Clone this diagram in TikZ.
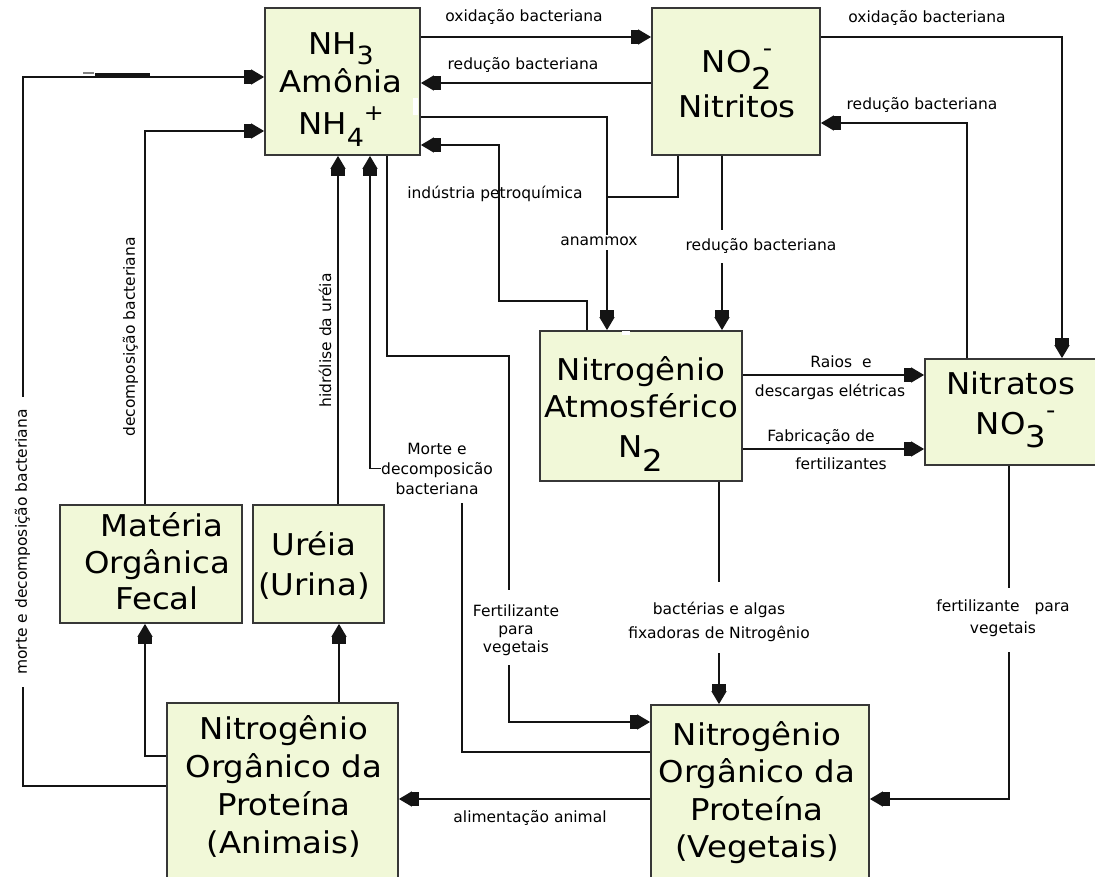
\documentclass[tikz,border=0pt]{standalone}
\usepackage{fontspec}
\setmainfont{DejaVu Sans}
\newfontfamily\boxfont[FakeStretch=1.08]{DejaVu Sans}
\usetikzlibrary{arrows.meta}

\definecolor{boxfill}{RGB}{241,248,216}
\definecolor{boxline}{RGB}{55,55,55}
\definecolor{wirecol}{RGB}{20,20,20}

% sub- and superscripts that do not disturb the line spacing
\newcommand\lowered[2]{\raisebox{#1}[0pt][0pt]{#2}}

\tikzset{
  box/.style={draw=boxline, fill=boxfill, line width=1.8pt, rectangle, inner sep=0pt},
  boxtext/.style={font=\boxfont\fontsize{30}{37.7}\selectfont, align=center, inner sep=0pt},
  note/.style={font=\fontsize{15.5}{18.6}\selectfont, align=center, inner sep=0pt},
  wire/.style={draw=wirecol, line width=1.5pt},
  flow/.style={wire, -{Rectangle[length=7pt,width=14pt]Triangle[length=13pt,width=15pt]}},
}

\begin{document}
\begin{tikzpicture}[x=1pt,y=-1pt]
\fill[white] (0,0) rectangle (1095,877);
\useasboundingbox (0,0) rectangle (1095,877);
\clip (0,0) rectangle (1095,877);

% ---------- boxes ----------
\node[box, minimum width=155pt, minimum height=147pt] (nh3) at (342.5,81.5) {};
\node[box, minimum width=168pt, minimum height=147pt] (no2) at (736,81.5) {};
\node[box, minimum width=202pt, minimum height=150pt] (n2)  at (641,406) {};
\node[box, minimum width=175pt, minimum height=106pt] (nit) at (1012.5,412) {};
\node[box, minimum width=182pt, minimum height=118pt] (fec) at (151,564) {};
\node[box, minimum width=131pt, minimum height=118pt] (ure) at (318.5,564) {};
\node[box, minimum width=231pt, minimum height=182pt] (ani) at (282.5,794) {};
\node[box, minimum width=218pt, minimum height=180pt] (veg) at (760,795) {};

% small white flaws on two box borders
\fill[white] (413,98) rectangle (418,115);
\fill[white] (622,331) rectangle (630,335);

% ---------- box texts ----------
\node[boxtext] (nh3t) at (341,84) {NH\lowered{-10pt}{\fontsize{25}{25}\selectfont 3}\\Amônia\\[4.6pt]NH\lowered{-12pt}{\fontsize{25}{25}\selectfont 4}\lowered{14pt}{\fontsize{22}{22}\selectfont +}};
\node[boxtext] (no2t) at (737,84.4) {NO\lowered{-17pt}{2}\llap{\lowered{16.5pt}{\fontsize{24}{24}\selectfont -}}\\[7.3pt]Nitritos};
\node[boxtext] (n2t) at (641,406.9) {Nitrogênio\\Atmosférico\\[2.3pt]N\lowered{-14pt}{2}};
\node[boxtext] (nitt) at (1011,403.6) {Nitratos\\[2.3pt]NO\lowered{-13pt}{3}\rlap{\lowered{16.5pt}{\fontsize{24}{24}\selectfont -}}};
\node[boxtext, font=\boxfont\fontsize{30}{36.5}\selectfont] (fect) at (157,561.5) {\hspace*{10pt}Matéria\\Orgânica\\Fecal};
\node[boxtext] (uret) at (314,565) {Uréia\\[2.3pt](Urina)};
\node[boxtext] (anit) at (284,786.5) {Nitrogênio\\Orgânico da\\Proteína\\(Animais)};
\node[boxtext, font=\boxfont\fontsize{30}{37.5}\selectfont] (vegt) at (757,792.4) {Nitrogênio\\Orgânico da\\Proteína\\(Vegetais)};

% ---------- labels ----------
\node[note, anchor=base] (ox1) at (524,22) {oxidação bacteriana};
\node[note, anchor=base] (rd1) at (523,70) {redução bacteriana};
\node[note, anchor=base] (ox2) at (927,23) {oxidação bacteriana};
\node[note, anchor=base] (rd3) at (922,110) {redução bacteriana};
\node[note, anchor=base] (ind) at (495,199) {indústria petroquímica};
\node[note, anchor=base] (anam) at (599,246) {anammox};
\node[note, anchor=base] (rd2) at (761,251) {redução bacteriana};
\node[note, anchor=base] (alim) at (530,822) {alimentação animal};
\node[note, font=\fontsize{15.5}{29}\selectfont] (raios) at (830,378.2) {\hspace*{22pt}Raios\ \ e\\descargas elétricas};
\node[note, font=\fontsize{15.5}{28}\selectfont] (fab) at (821,449.8) {Fabricação de\\\hspace*{40pt}fertilizantes};
\node[note, font=\fontsize{15.5}{24}\selectfont] (fix) at (719,622.4) {bactérias e algas\\fixadoras de Nitrogênio};
\node[note, font=\fontsize{15.5}{22}\selectfont] (fert2) at (1003,618.6) {fertilizante\ \ \ para\\vegetais};
\node[note, font=\fontsize{15.5}{18}\selectfont] (fert1) at (516,630.6) {Fertilizante\\para\\vegetais};
\node[note, font=\fontsize{15.5}{20}\selectfont] (mlab) at (437,468.6) {Morte e\\decomposicão\\bacteriana};
\node[note, rotate=90] (dfec) at (130.4,337) {decomposição bacteriana};
\node[note, rotate=90] (hid) at (325,340.5) {hidrólise da uréia};
\node[note, rotate=90, inner xsep=12.5pt] (mort) at (22.4,542) {morte e decomposição bacteriana};

% ---------- connectors ----------
% ammonia <-> nitrite
\draw[flow] (nh3.east |- 0,37) -- (no2.west |- 0,37);
\draw[flow] (no2.west |- 0,83) -- (nh3.east |- 0,83);
% anammox
\draw[wire, shorten >=2.6pt] (nh3.east |- 0,117) -- (607,117) -- (anam.north -| 607,0);
\draw[wire] (no2.south -| 678,0) -- (678,197) -- (607,197);
\draw[flow, shorten <=4pt] (anam.south -| 607,0) -- (n2.north -| 607,0);
% petrochemical industry
\draw[flow] (n2.north -| 587,0) -- (587,301) -- (499,301) -- (499,145) -- (nh3.east |- 0,145);
% nitrite -> N2
\draw[wire, shorten >=8.6pt] (no2.south -| 722,0) -- (rd2.north -| 722,0);
\draw[flow, shorten <=9pt] (rd2.south -| 722,0) -- (n2.north -| 722,0);
% nitrite <-> nitrate
\draw[flow] (no2.east |- 0,37) -- (1062,37) -- (nit.north -| 1062,0);
\draw[flow] (nit.north -| 967,0) -- (967,123) -- (no2.east |- 0,123);
% N2 -> nitrate
\draw[flow] (n2.east |- 0,375) -- (nit.west |- 0,375);
\draw[flow] (n2.east |- 0,449) -- (nit.west |- 0,449);
% fixation
\draw[wire, shorten >=20pt] (n2.south -| 719,0) -- (fix.north -| 719,0);
\draw[flow, shorten <=11pt] (fix.south -| 719,0) -- (veg.north -| 719,0);
% nitrate fertiliser
\draw[wire, shorten >=12pt] (nit.south -| 1009,0) -- (fert2.north -| 1009,0);
\draw[flow, shorten <=15pt] (fert2.south -| 1009,0) -- (1009,799) -- (veg.east |- 0,799);
% ammonia fertiliser
\draw[wire, shorten >=15pt] (nh3.south -| 387,0) -- (387,356) -- (509,356) -- (fert1.north -| 509,0);
\draw[flow, shorten <=9pt] (fert1.south -| 509,0) -- (509,722) -- (veg.west |- 0,722);
% plant death and decay
\draw[wire, shorten >=8pt] (veg.west |- 0,752) -- (462,752) -- (mlab.south -| 462,0);
\draw[flow] (mlab.west) -- (mlab.west -| 370,0) -- (nh3.south -| 370,0);
% animal feeding
\draw[flow] (veg.west |- 0,799) -- (ani.east |- 0,799);
% animals -> urea, faeces
\draw[flow] (ani.north -| 339,0) -- (ure.south -| 339,0);
\draw[flow] (ani.west |- 0,756) -- (145,756) -- (fec.south -| 145,0);
% urea, faeces -> ammonia
\draw[flow] (ure.north -| 338,0) -- (nh3.south -| 338,0);
\draw[flow] (fec.north -| 145,0) -- (145,131) -- (nh3.west |- 0,131);
% animal death and decay
\draw[wire] (ani.west |- 0,786) -- (23,786) -- (mort.west -| 23,0);
\draw[flow] (mort.east -| 23,0) -- (23,77) -- (nh3.west |- 0,77);
% stray marks on the top-left line
\fill[wirecol] (95,73.3) rectangle (150,77);
\fill[gray] (83,72.3) rectangle (94,74.3);
\end{tikzpicture}
\end{document}
